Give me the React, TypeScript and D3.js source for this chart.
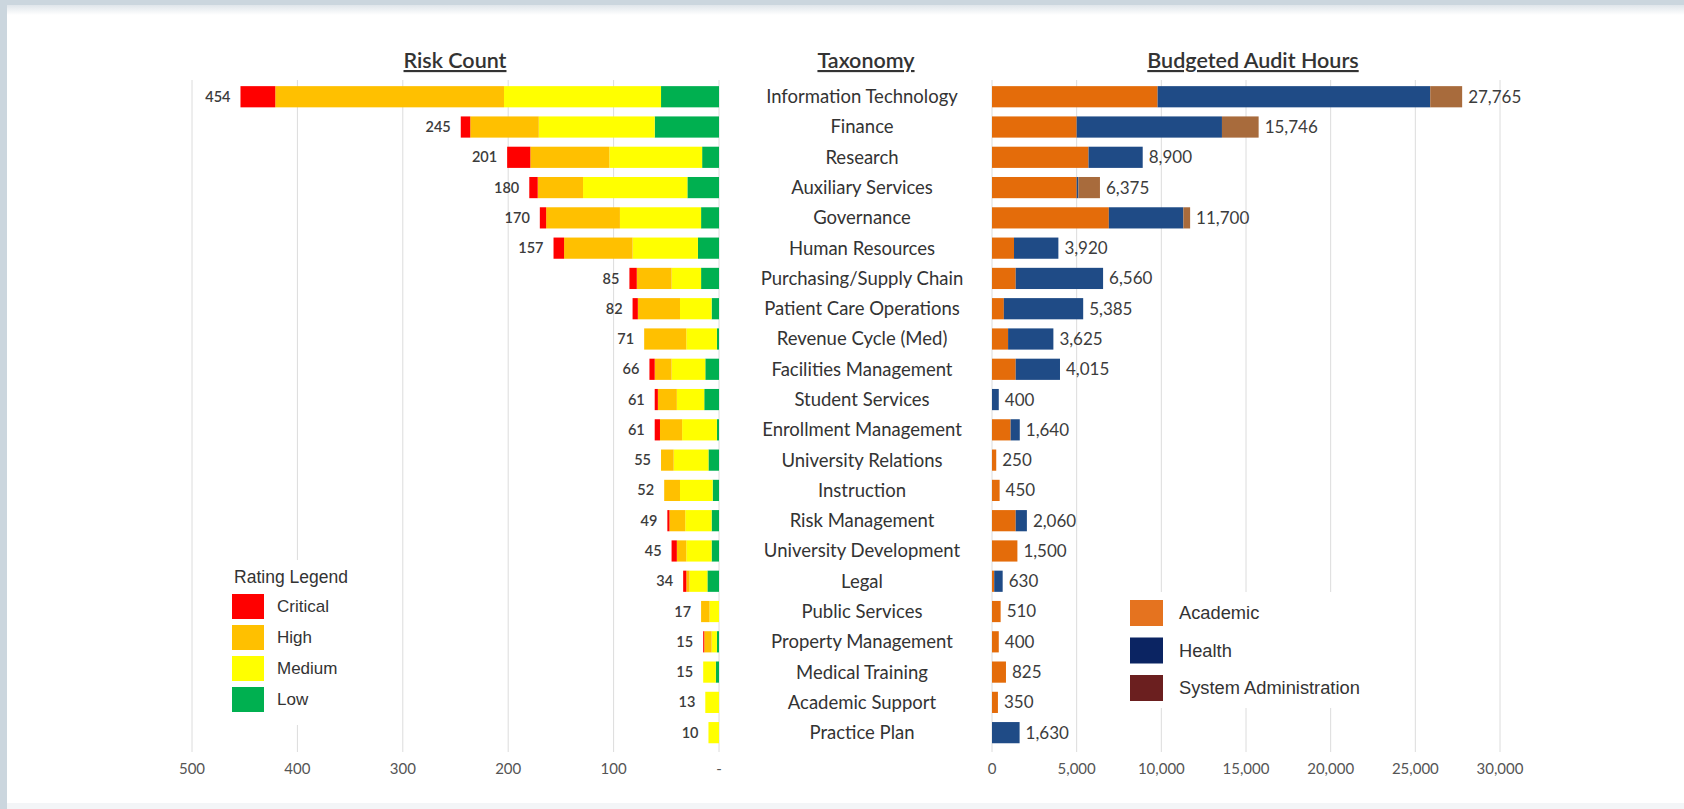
import React from "react";
import * as d3 from "d3";

const categories = [
  "Information Technology", "Finance", "Research", "Auxiliary Services", "Governance",
  "Human Resources", "Purchasing/Supply Chain", "Patient Care Operations", "Revenue Cycle (Med)",
  "Facilities Management", "Student Services", "Enrollment Management", "University Relations",
  "Instruction", "Risk Management", "University Development", "Legal", "Public Services",
  "Property Management", "Medical Training", "Academic Support", "Practice Plan",
];

// Risk counts by rating
const critical = [33, 9, 22, 8, 6, 10, 7, 5, 0, 5, 3, 5, 0, 0, 2, 5, 3, 0, 1, 0, 0, 0];
const high = [217, 65, 75, 43, 70, 65, 33, 40, 40, 16, 18, 21, 12, 15, 15, 9, 3, 8, 7, 0, 0, 0];
const medium = [149, 110, 88, 99, 77, 62, 28, 30, 29, 32, 26, 33, 33, 31, 25, 24, 17, 9, 5, 12, 13, 10];
const low = [55, 61, 16, 30, 17, 20, 17, 7, 2, 13, 14, 2, 10, 6, 7, 7, 11, 0, 2, 3, 0, 0];

// Budgeted audit hours
const academic = [9780, 5000, 5700, 5000, 6900, 1300, 1400, 700, 950, 1400, 0, 1100, 250, 450, 1400, 1500, 130, 510, 400, 825, 350, 0];
const health = [16100, 8580, 3200, 100, 4400, 2620, 5160, 4685, 2675, 2615, 400, 540, 0, 0, 660, 0, 500, 0, 0, 0, 0, 1630];
const sysAdmin = [1885, 2166, 0, 1275, 400, 0, 0, 0, 0, 0, 0, 0, 0, 0, 0, 0, 0, 0, 0, 0, 0, 0];

const riskTicks = [500, 400, 300, 200, 100, 0];
const hourTicks = [0, 5000, 10000, 15000, 20000, 25000, 30000];

const riskKeys = ["low", "medium", "high", "critical"];
const riskColors: Record<string, string> = { critical: "#ff0000", high: "#ffc000", medium: "#ffff00", low: "#00b050" };
const riskLegend = [
  { key: "critical", label: "Critical" },
  { key: "high", label: "High" },
  { key: "medium", label: "Medium" },
  { key: "low", label: "Low" },
];
const hourKeys = ["academic", "health", "sysAdmin"];
const hourColors: Record<string, string> = { academic: "#e46c0a", health: "#1f4b86", sysAdmin: "#a86b3c" };
const hourLegend = [
  { label: "Academic", color: "#e5731f" },
  { label: "Health", color: "#0b2462" },
  { label: "System Administration", color: "#6b1f1f" },
];

const W = 1684;
const H = 809;
const FONT = "Lato, 'Open Sans', sans-serif";
const ARIAL = "'Liberation Sans', Arial, sans-serif";

export default function App() {
  const riskRows = categories.map((c, i) => ({
    cat: c, critical: critical[i], high: high[i], medium: medium[i], low: low[i],
  }));
  const hourRows = categories.map((c, i) => ({
    cat: c, academic: academic[i], health: health[i], sysAdmin: sysAdmin[i],
  }));

  const y = d3.scaleBand<string>().domain(categories).range([81.6, 747.8]).paddingInner(0.3).paddingOuter(0.15);
  const xL = d3.scaleLinear().domain([0, 500]).range([719, 192]);
  const xR = d3.scaleLinear().domain([0, 30000]).range([992, 1500]);

  const riskStack = d3.stack<any>().keys(riskKeys)(riskRows);
  const hourStack = d3.stack<any>().keys(hourKeys)(hourRows);
  const fmt = d3.format(",");

  const gridTop = 80;
  const gridBottom = 752;
  const bw = y.bandwidth();

  return (
    <>
      <style>{`body{margin:0;}`}</style>
      <svg width={W} height={H} style={{ display: "block", fontFamily: FONT }}>
        <defs>
          <linearGradient id="topShade" x1="0" y1="0" x2="0" y2="1">
            <stop offset="0" stopColor="#dfe5ea" />
            <stop offset="1" stopColor="#ffffff" />
          </linearGradient>
        </defs>
        <rect x={0} y={0} width={W} height={H} fill="#cbd6de" />
        <rect x={7} y={5} width={W - 7} height={798} fill="#ffffff" />
        <rect x={7} y={5} width={W - 7} height={10} fill="url(#topShade)" />
        <rect x={7} y={803} width={W - 7} height={6} fill="#f3f5f7" />

        {/* gridlines */}
        {riskTicks.map((t) => (
          <line key={"gl" + t} x1={xL(t)} x2={xL(t)} y1={gridTop} y2={gridBottom} stroke="#dcdcdc" strokeWidth={1} />
        ))}
        {hourTicks.map((t) => (
          <line key={"gr" + t} x1={xR(t)} x2={xR(t)} y1={gridTop} y2={gridBottom} stroke="#dcdcdc" strokeWidth={1} />
        ))}

        {/* legend backgrounds */}
        <rect x={214} y={560} width={170} height={165} fill="#ffffff" />
        <rect x={1115} y={592} width={270} height={116} fill="#ffffff" />

        {/* titles */}
        <text x={455} y={68} textAnchor="middle" fontSize={21.5} fontWeight={600} fill="#333" textDecoration="underline">Risk Count</text>
        <text x={866} y={68} textAnchor="middle" fontSize={21.5} fontWeight={600} fill="#333" textDecoration="underline">Taxonomy</text>
        <text x={1253} y={68} textAnchor="middle" fontSize={21.5} fontWeight={600} fill="#333" textDecoration="underline">Budgeted Audit Hours</text>

        {/* risk bars */}
        {riskStack.map((layer) => (
          <g key={layer.key} fill={riskColors[layer.key]}>
            {layer.map((d, i) => (
              <rect key={i} x={xL(d[1])} width={Math.max(0, xL(d[0]) - xL(d[1]))} y={y(categories[i])} height={bw} />
            ))}
          </g>
        ))}
        {riskRows.map((r) => {
          const tot = r.critical + r.high + r.medium + r.low;
          return (
            <text key={"rl" + r.cat} x={xL(tot) - 10} y={(y(r.cat) as number) + bw / 2} dy="0.35em" textAnchor="end" fontSize={14.5} fontWeight={600} fill="#3c3c3c">{tot}</text>
          );
        })}

        {/* category labels */}
        {categories.map((c) => (
          <text key={"c" + c} x={862} y={(y(c) as number) + bw / 2} dy="0.35em" textAnchor="middle" fontSize={18.5} fill="#333">{c}</text>
        ))}

        {/* hour bars */}
        {hourStack.map((layer) => (
          <g key={layer.key} fill={hourColors[layer.key]}>
            {layer.map((d, i) => (
              <rect key={i} x={xR(d[0])} width={Math.max(0, xR(d[1]) - xR(d[0]))} y={y(categories[i])} height={bw} />
            ))}
          </g>
        ))}
        {hourRows.map((r) => {
          const tot = r.academic + r.health + r.sysAdmin;
          return (
            <text key={"hl" + r.cat} x={xR(tot) + 6} y={(y(r.cat) as number) + bw / 2} dy="0.35em" textAnchor="start" fontSize={17} fill="#3c3c3c">{fmt(tot)}</text>
          );
        })}

        {/* axis tick labels */}
        {riskTicks.map((t) => (
          <text key={"tl" + t} x={xL(t)} y={769} dy="0.35em" textAnchor="middle" fontSize={15} fill="#555">{t === 0 ? "-" : t}</text>
        ))}
        {hourTicks.map((t) => (
          <text key={"tr" + t} x={xR(t)} y={769} dy="0.35em" textAnchor="middle" fontSize={15} fill="#555">{fmt(t)}</text>
        ))}

        {/* rating legend */}
        <text x={291} y={577} dy="0.35em" textAnchor="middle" fontSize={17.5} fill="#333" fontFamily={ARIAL}>Rating Legend</text>
        {riskLegend.map((l, i) => (
          <g key={l.key}>
            <rect x={232} y={594 + i * 31} width={32} height={25} fill={riskColors[l.key]} />
            <text x={277} y={594 + i * 31 + 12.5} dy="0.35em" fontSize={17} fill="#333" fontFamily={ARIAL}>{l.label}</text>
          </g>
        ))}

        {/* hours legend */}
        {hourLegend.map((l, i) => (
          <g key={l.label}>
            <rect x={1130} y={600 + i * 37.5} width={33} height={26} fill={l.color} />
            <text x={1179} y={600 + i * 37.5 + 13} dy="0.35em" fontSize={18.3} fill="#333" fontFamily={ARIAL}>{l.label}</text>
          </g>
        ))}
      </svg>
    </>
  );
}
